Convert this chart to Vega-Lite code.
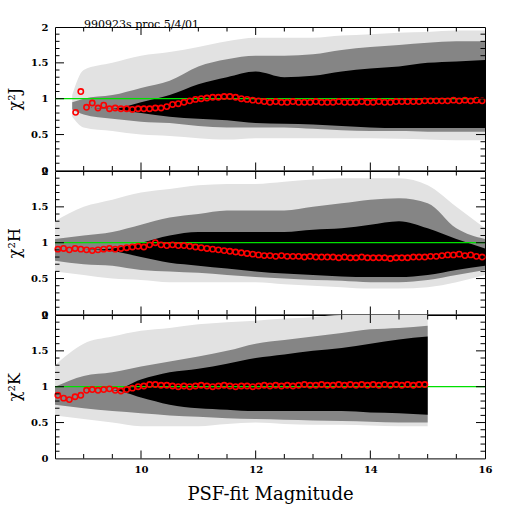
{
  "$schema": "https://vega.github.io/schema/vega-lite/v6.json",
  "background": "white",
  "padding": {"left": 6, "top": 18, "right": 26, "bottom": 10},
  "config": {
    "view": {"stroke": "black", "strokeWidth": 1},
    "font": "DejaVu Serif",
    "axis": {"domain": false, "grid": false, "ticks": false, "tickSize": 0, "labelColor": "black", "labelFont": "DejaVu Serif", "labelFontSize": 10, "labelFontWeight": "bold", "titleColor": "black", "titleFont": "DejaVu Serif", "titleFontWeight": "normal", "labelOverlap": false, "labelBound": false, "labelFlush": false}
  },
  "datasets": {
    "J_band": [
      {"mag": 8.8, "halo_lo": 0.75, "halo_hi": 1.05, "mid_lo": 0.85, "mid_hi": 0.95, "core_lo": 0.9, "core_hi": 0.9},
      {"mag": 9.0, "halo_lo": 0.6, "halo_hi": 1.4, "mid_lo": 0.78, "mid_hi": 1.0, "core_lo": 0.88, "core_hi": 0.88},
      {"mag": 9.5, "halo_lo": 0.55, "halo_hi": 1.5, "mid_lo": 0.72, "mid_hi": 1.05, "core_lo": 0.86, "core_hi": 0.86},
      {"mag": 10.0, "halo_lo": 0.5, "halo_hi": 1.6, "mid_lo": 0.68, "mid_hi": 1.15, "core_lo": 0.8, "core_hi": 0.95},
      {"mag": 10.5, "halo_lo": 0.48, "halo_hi": 1.65, "mid_lo": 0.66, "mid_hi": 1.25, "core_lo": 0.75, "core_hi": 1.05},
      {"mag": 11.0, "halo_lo": 0.45, "halo_hi": 1.72, "mid_lo": 0.62, "mid_hi": 1.45, "core_lo": 0.72, "core_hi": 1.2},
      {"mag": 11.5, "halo_lo": 0.43, "halo_hi": 1.8, "mid_lo": 0.6, "mid_hi": 1.55, "core_lo": 0.7, "core_hi": 1.3},
      {"mag": 12.0, "halo_lo": 0.45, "halo_hi": 1.85, "mid_lo": 0.6, "mid_hi": 1.6, "core_lo": 0.66, "core_hi": 1.38},
      {"mag": 12.5, "halo_lo": 0.45, "halo_hi": 1.85, "mid_lo": 0.6, "mid_hi": 1.6, "core_lo": 0.65, "core_hi": 1.3},
      {"mag": 13.0, "halo_lo": 0.45, "halo_hi": 1.85, "mid_lo": 0.58, "mid_hi": 1.62, "core_lo": 0.64, "core_hi": 1.32},
      {"mag": 13.5, "halo_lo": 0.45, "halo_hi": 1.88, "mid_lo": 0.56, "mid_hi": 1.68, "core_lo": 0.62, "core_hi": 1.38},
      {"mag": 14.0, "halo_lo": 0.45, "halo_hi": 1.9, "mid_lo": 0.55, "mid_hi": 1.72, "core_lo": 0.6, "core_hi": 1.42},
      {"mag": 14.5, "halo_lo": 0.44, "halo_hi": 1.92, "mid_lo": 0.55, "mid_hi": 1.75, "core_lo": 0.59, "core_hi": 1.45},
      {"mag": 15.0, "halo_lo": 0.43, "halo_hi": 1.93, "mid_lo": 0.54, "mid_hi": 1.78, "core_lo": 0.59, "core_hi": 1.5},
      {"mag": 15.5, "halo_lo": 0.42, "halo_hi": 1.95, "mid_lo": 0.54, "mid_hi": 1.8, "core_lo": 0.59, "core_hi": 1.52},
      {"mag": 16.0, "halo_lo": 0.42, "halo_hi": 1.95, "mid_lo": 0.54, "mid_hi": 1.8, "core_lo": 0.59, "core_hi": 1.54}
    ],
    "H_band": [
      {"mag": 8.5, "halo_lo": 0.6, "halo_hi": 1.3, "mid_lo": 0.75, "mid_hi": 1.05, "core_lo": 0.9, "core_hi": 0.9},
      {"mag": 9.0, "halo_lo": 0.55, "halo_hi": 1.5, "mid_lo": 0.7, "mid_hi": 1.1, "core_lo": 0.9, "core_hi": 0.9},
      {"mag": 9.5, "halo_lo": 0.5, "halo_hi": 1.6, "mid_lo": 0.68, "mid_hi": 1.15, "core_lo": 0.88, "core_hi": 0.92},
      {"mag": 10.0, "halo_lo": 0.48, "halo_hi": 1.7, "mid_lo": 0.62, "mid_hi": 1.25, "core_lo": 0.8, "core_hi": 1.0},
      {"mag": 10.5, "halo_lo": 0.45, "halo_hi": 1.75, "mid_lo": 0.6, "mid_hi": 1.35, "core_lo": 0.72, "core_hi": 1.1},
      {"mag": 11.0, "halo_lo": 0.45, "halo_hi": 1.8, "mid_lo": 0.58, "mid_hi": 1.4, "core_lo": 0.68, "core_hi": 1.15},
      {"mag": 11.5, "halo_lo": 0.45, "halo_hi": 1.82, "mid_lo": 0.55, "mid_hi": 1.45, "core_lo": 0.64, "core_hi": 1.15},
      {"mag": 12.0, "halo_lo": 0.45, "halo_hi": 1.82, "mid_lo": 0.52, "mid_hi": 1.45, "core_lo": 0.6, "core_hi": 1.15},
      {"mag": 12.5, "halo_lo": 0.42, "halo_hi": 1.85, "mid_lo": 0.5, "mid_hi": 1.45, "core_lo": 0.57, "core_hi": 1.15},
      {"mag": 13.0, "halo_lo": 0.4, "halo_hi": 1.88, "mid_lo": 0.48, "mid_hi": 1.5, "core_lo": 0.55, "core_hi": 1.18},
      {"mag": 13.5, "halo_lo": 0.38, "halo_hi": 1.9, "mid_lo": 0.47, "mid_hi": 1.55, "core_lo": 0.53, "core_hi": 1.2},
      {"mag": 14.0, "halo_lo": 0.36, "halo_hi": 1.9, "mid_lo": 0.45, "mid_hi": 1.6, "core_lo": 0.52, "core_hi": 1.25},
      {"mag": 14.5, "halo_lo": 0.36, "halo_hi": 1.9, "mid_lo": 0.45, "mid_hi": 1.62, "core_lo": 0.52, "core_hi": 1.3},
      {"mag": 15.0, "halo_lo": 0.38, "halo_hi": 1.8, "mid_lo": 0.48, "mid_hi": 1.55, "core_lo": 0.55, "core_hi": 1.2},
      {"mag": 15.5, "halo_lo": 0.45, "halo_hi": 1.5, "mid_lo": 0.55, "mid_hi": 1.2, "core_lo": 0.62, "core_hi": 1.05},
      {"mag": 16.0, "halo_lo": 0.55, "halo_hi": 1.2, "mid_lo": 0.62, "mid_hi": 1.05, "core_lo": 0.68, "core_hi": 0.92}
    ],
    "K_band": [
      {"mag": 8.5, "halo_lo": 0.6, "halo_hi": 1.3, "mid_lo": 0.75, "mid_hi": 1.0, "core_lo": 0.87, "core_hi": 0.87},
      {"mag": 9.0, "halo_lo": 0.55, "halo_hi": 1.6, "mid_lo": 0.7, "mid_hi": 1.15, "core_lo": 0.95, "core_hi": 0.95},
      {"mag": 9.5, "halo_lo": 0.5, "halo_hi": 1.7, "mid_lo": 0.66, "mid_hi": 1.2, "core_lo": 0.95, "core_hi": 0.95},
      {"mag": 10.0, "halo_lo": 0.45, "halo_hi": 1.78, "mid_lo": 0.63, "mid_hi": 1.28, "core_lo": 0.85, "core_hi": 1.1},
      {"mag": 10.5, "halo_lo": 0.45, "halo_hi": 1.82, "mid_lo": 0.6, "mid_hi": 1.35, "core_lo": 0.75, "core_hi": 1.2},
      {"mag": 11.0, "halo_lo": 0.45, "halo_hi": 1.87, "mid_lo": 0.58, "mid_hi": 1.42, "core_lo": 0.7, "core_hi": 1.25},
      {"mag": 11.5, "halo_lo": 0.48, "halo_hi": 1.9, "mid_lo": 0.56, "mid_hi": 1.5, "core_lo": 0.68, "core_hi": 1.32},
      {"mag": 12.0, "halo_lo": 0.5, "halo_hi": 1.92, "mid_lo": 0.55, "mid_hi": 1.6, "core_lo": 0.66, "core_hi": 1.4},
      {"mag": 12.5, "halo_lo": 0.48, "halo_hi": 1.95, "mid_lo": 0.54, "mid_hi": 1.65, "core_lo": 0.66, "core_hi": 1.45},
      {"mag": 13.0, "halo_lo": 0.47, "halo_hi": 1.97, "mid_lo": 0.53, "mid_hi": 1.7, "core_lo": 0.66, "core_hi": 1.5},
      {"mag": 13.5, "halo_lo": 0.47, "halo_hi": 2.0, "mid_lo": 0.52, "mid_hi": 1.75, "core_lo": 0.66, "core_hi": 1.54},
      {"mag": 14.0, "halo_lo": 0.46, "halo_hi": 2.0, "mid_lo": 0.51, "mid_hi": 1.8, "core_lo": 0.64, "core_hi": 1.6},
      {"mag": 14.5, "halo_lo": 0.45, "halo_hi": 2.0, "mid_lo": 0.5, "mid_hi": 1.82, "core_lo": 0.63, "core_hi": 1.66},
      {"mag": 15.0, "halo_lo": 0.45, "halo_hi": 2.0, "mid_lo": 0.5, "mid_hi": 1.85, "core_lo": 0.61, "core_hi": 1.7}
    ],
    "J_mean": [
      {"mag": 8.86, "chi2": 0.81}, {"mag": 8.95, "chi2": 1.10}, {"mag": 9.05, "chi2": 0.88}, {"mag": 9.15, "chi2": 0.94},
      {"mag": 9.25, "chi2": 0.87}, {"mag": 9.35, "chi2": 0.91}, {"mag": 9.45, "chi2": 0.86}, {"mag": 9.55, "chi2": 0.87},
      {"mag": 9.65, "chi2": 0.86}, {"mag": 9.75, "chi2": 0.86}, {"mag": 9.85, "chi2": 0.85}, {"mag": 9.95, "chi2": 0.86},
      {"mag": 10.05, "chi2": 0.86}, {"mag": 10.15, "chi2": 0.86}, {"mag": 10.25, "chi2": 0.87}, {"mag": 10.35, "chi2": 0.87},
      {"mag": 10.45, "chi2": 0.89}, {"mag": 10.55, "chi2": 0.92}, {"mag": 10.65, "chi2": 0.93}, {"mag": 10.75, "chi2": 0.95},
      {"mag": 10.85, "chi2": 0.97}, {"mag": 10.95, "chi2": 0.99}, {"mag": 11.05, "chi2": 1.00}, {"mag": 11.15, "chi2": 1.01},
      {"mag": 11.25, "chi2": 1.02}, {"mag": 11.35, "chi2": 1.02}, {"mag": 11.45, "chi2": 1.03}, {"mag": 11.55, "chi2": 1.03},
      {"mag": 11.65, "chi2": 1.02}, {"mag": 11.75, "chi2": 1.00}, {"mag": 11.85, "chi2": 0.99}, {"mag": 11.95, "chi2": 0.98},
      {"mag": 12.05, "chi2": 0.97}, {"mag": 12.15, "chi2": 0.96}, {"mag": 12.25, "chi2": 0.95}, {"mag": 12.35, "chi2": 0.96},
      {"mag": 12.45, "chi2": 0.95}, {"mag": 12.55, "chi2": 0.95}, {"mag": 12.65, "chi2": 0.96}, {"mag": 12.75, "chi2": 0.95},
      {"mag": 12.85, "chi2": 0.95}, {"mag": 12.95, "chi2": 0.95}, {"mag": 13.05, "chi2": 0.96}, {"mag": 13.15, "chi2": 0.95},
      {"mag": 13.25, "chi2": 0.95}, {"mag": 13.35, "chi2": 0.95}, {"mag": 13.45, "chi2": 0.96}, {"mag": 13.55, "chi2": 0.95},
      {"mag": 13.65, "chi2": 0.95}, {"mag": 13.75, "chi2": 0.95}, {"mag": 13.85, "chi2": 0.96}, {"mag": 13.95, "chi2": 0.95},
      {"mag": 14.05, "chi2": 0.95}, {"mag": 14.15, "chi2": 0.96}, {"mag": 14.25, "chi2": 0.95}, {"mag": 14.35, "chi2": 0.95},
      {"mag": 14.45, "chi2": 0.96}, {"mag": 14.55, "chi2": 0.96}, {"mag": 14.65, "chi2": 0.96}, {"mag": 14.75, "chi2": 0.96},
      {"mag": 14.85, "chi2": 0.96}, {"mag": 14.95, "chi2": 0.97}, {"mag": 15.05, "chi2": 0.97}, {"mag": 15.15, "chi2": 0.97},
      {"mag": 15.25, "chi2": 0.97}, {"mag": 15.35, "chi2": 0.97}, {"mag": 15.45, "chi2": 0.98}, {"mag": 15.55, "chi2": 0.97},
      {"mag": 15.65, "chi2": 0.98}, {"mag": 15.75, "chi2": 0.97}, {"mag": 15.85, "chi2": 0.98}, {"mag": 15.95, "chi2": 0.97}
    ],
    "H_mean": [
      {"mag": 8.55, "chi2": 0.91}, {"mag": 8.65, "chi2": 0.92}, {"mag": 8.75, "chi2": 0.90}, {"mag": 8.85, "chi2": 0.92},
      {"mag": 8.95, "chi2": 0.91}, {"mag": 9.05, "chi2": 0.90}, {"mag": 9.15, "chi2": 0.89}, {"mag": 9.25, "chi2": 0.90},
      {"mag": 9.35, "chi2": 0.91}, {"mag": 9.45, "chi2": 0.92}, {"mag": 9.55, "chi2": 0.91}, {"mag": 9.65, "chi2": 0.92},
      {"mag": 9.75, "chi2": 0.93}, {"mag": 9.85, "chi2": 0.94}, {"mag": 9.95, "chi2": 0.95}, {"mag": 10.05, "chi2": 0.94},
      {"mag": 10.15, "chi2": 0.97}, {"mag": 10.25, "chi2": 1.00}, {"mag": 10.35, "chi2": 0.97}, {"mag": 10.45, "chi2": 0.96},
      {"mag": 10.55, "chi2": 0.97}, {"mag": 10.65, "chi2": 0.96}, {"mag": 10.75, "chi2": 0.96}, {"mag": 10.85, "chi2": 0.95},
      {"mag": 10.95, "chi2": 0.94}, {"mag": 11.05, "chi2": 0.93}, {"mag": 11.15, "chi2": 0.92}, {"mag": 11.25, "chi2": 0.91},
      {"mag": 11.35, "chi2": 0.90}, {"mag": 11.45, "chi2": 0.89}, {"mag": 11.55, "chi2": 0.88}, {"mag": 11.65, "chi2": 0.87},
      {"mag": 11.75, "chi2": 0.86}, {"mag": 11.85, "chi2": 0.85}, {"mag": 11.95, "chi2": 0.84}, {"mag": 12.05, "chi2": 0.83},
      {"mag": 12.15, "chi2": 0.82}, {"mag": 12.25, "chi2": 0.82}, {"mag": 12.35, "chi2": 0.81}, {"mag": 12.45, "chi2": 0.82},
      {"mag": 12.55, "chi2": 0.81}, {"mag": 12.65, "chi2": 0.81}, {"mag": 12.75, "chi2": 0.81}, {"mag": 12.85, "chi2": 0.80},
      {"mag": 12.95, "chi2": 0.81}, {"mag": 13.05, "chi2": 0.80}, {"mag": 13.15, "chi2": 0.80}, {"mag": 13.25, "chi2": 0.80},
      {"mag": 13.35, "chi2": 0.80}, {"mag": 13.45, "chi2": 0.79}, {"mag": 13.55, "chi2": 0.80}, {"mag": 13.65, "chi2": 0.79},
      {"mag": 13.75, "chi2": 0.79}, {"mag": 13.85, "chi2": 0.80}, {"mag": 13.95, "chi2": 0.79}, {"mag": 14.05, "chi2": 0.79},
      {"mag": 14.15, "chi2": 0.79}, {"mag": 14.25, "chi2": 0.79}, {"mag": 14.35, "chi2": 0.78}, {"mag": 14.45, "chi2": 0.79},
      {"mag": 14.55, "chi2": 0.79}, {"mag": 14.65, "chi2": 0.79}, {"mag": 14.75, "chi2": 0.80}, {"mag": 14.85, "chi2": 0.80},
      {"mag": 14.95, "chi2": 0.80}, {"mag": 15.05, "chi2": 0.81}, {"mag": 15.15, "chi2": 0.81}, {"mag": 15.25, "chi2": 0.82},
      {"mag": 15.35, "chi2": 0.83}, {"mag": 15.45, "chi2": 0.83}, {"mag": 15.55, "chi2": 0.84}, {"mag": 15.65, "chi2": 0.82},
      {"mag": 15.75, "chi2": 0.83}, {"mag": 15.85, "chi2": 0.81}, {"mag": 15.95, "chi2": 0.80}
    ],
    "K_mean": [
      {"mag": 8.55, "chi2": 0.88}, {"mag": 8.65, "chi2": 0.84}, {"mag": 8.75, "chi2": 0.82}, {"mag": 8.85, "chi2": 0.86},
      {"mag": 8.95, "chi2": 0.88}, {"mag": 9.05, "chi2": 0.95}, {"mag": 9.15, "chi2": 0.96}, {"mag": 9.25, "chi2": 0.95},
      {"mag": 9.35, "chi2": 0.96}, {"mag": 9.45, "chi2": 0.97}, {"mag": 9.55, "chi2": 0.95}, {"mag": 9.65, "chi2": 0.94},
      {"mag": 9.75, "chi2": 0.96}, {"mag": 9.85, "chi2": 0.98}, {"mag": 9.95, "chi2": 1.00}, {"mag": 10.05, "chi2": 1.01},
      {"mag": 10.15, "chi2": 1.03}, {"mag": 10.25, "chi2": 1.03}, {"mag": 10.35, "chi2": 1.02}, {"mag": 10.45, "chi2": 1.02},
      {"mag": 10.55, "chi2": 1.01}, {"mag": 10.65, "chi2": 1.00}, {"mag": 10.75, "chi2": 1.01}, {"mag": 10.85, "chi2": 1.00},
      {"mag": 10.95, "chi2": 1.01}, {"mag": 11.05, "chi2": 1.02}, {"mag": 11.15, "chi2": 1.01}, {"mag": 11.25, "chi2": 1.00},
      {"mag": 11.35, "chi2": 1.01}, {"mag": 11.45, "chi2": 1.02}, {"mag": 11.55, "chi2": 1.01}, {"mag": 11.65, "chi2": 1.00},
      {"mag": 11.75, "chi2": 1.01}, {"mag": 11.85, "chi2": 1.01}, {"mag": 11.95, "chi2": 1.00}, {"mag": 12.05, "chi2": 1.01},
      {"mag": 12.15, "chi2": 1.02}, {"mag": 12.25, "chi2": 1.01}, {"mag": 12.35, "chi2": 1.02}, {"mag": 12.45, "chi2": 1.01},
      {"mag": 12.55, "chi2": 1.02}, {"mag": 12.65, "chi2": 1.01}, {"mag": 12.75, "chi2": 1.02}, {"mag": 12.85, "chi2": 1.03},
      {"mag": 12.95, "chi2": 1.02}, {"mag": 13.05, "chi2": 1.02}, {"mag": 13.15, "chi2": 1.03}, {"mag": 13.25, "chi2": 1.02},
      {"mag": 13.35, "chi2": 1.02}, {"mag": 13.45, "chi2": 1.03}, {"mag": 13.55, "chi2": 1.02}, {"mag": 13.65, "chi2": 1.03},
      {"mag": 13.75, "chi2": 1.02}, {"mag": 13.85, "chi2": 1.03}, {"mag": 13.95, "chi2": 1.02}, {"mag": 14.05, "chi2": 1.03},
      {"mag": 14.15, "chi2": 1.02}, {"mag": 14.25, "chi2": 1.03}, {"mag": 14.35, "chi2": 1.02}, {"mag": 14.45, "chi2": 1.03},
      {"mag": 14.55, "chi2": 1.02}, {"mag": 14.65, "chi2": 1.03}, {"mag": 14.75, "chi2": 1.02}, {"mag": 14.85, "chi2": 1.03},
      {"mag": 14.95, "chi2": 1.03}
    ],
    "unity": [{"chi2": 1}],
    "xt_major": [
      {"v": 10, "edge": 0}, {"v": 10, "edge": 2}, {"v": 12, "edge": 0}, {"v": 12, "edge": 2}, {"v": 14, "edge": 0}, {"v": 14, "edge": 2}
    ],
    "xt_minor": [
      {"v": 9, "edge": 0}, {"v": 9, "edge": 2}, {"v": 9.5, "edge": 0}, {"v": 9.5, "edge": 2},
      {"v": 10.5, "edge": 0}, {"v": 10.5, "edge": 2}, {"v": 11, "edge": 0}, {"v": 11, "edge": 2},
      {"v": 11.5, "edge": 0}, {"v": 11.5, "edge": 2}, {"v": 12.5, "edge": 0}, {"v": 12.5, "edge": 2},
      {"v": 13, "edge": 0}, {"v": 13, "edge": 2}, {"v": 13.5, "edge": 0}, {"v": 13.5, "edge": 2},
      {"v": 14.5, "edge": 0}, {"v": 14.5, "edge": 2}, {"v": 15, "edge": 0}, {"v": 15, "edge": 2},
      {"v": 15.5, "edge": 0}, {"v": 15.5, "edge": 2}
    ],
    "yt_major": [
      {"v": 0.5, "edge": 8.5}, {"v": 0.5, "edge": 16}, {"v": 1, "edge": 8.5}, {"v": 1, "edge": 16}, {"v": 1.5, "edge": 8.5}, {"v": 1.5, "edge": 16}
    ],
    "yt_minor": [
      {"v": 0.1, "edge": 8.5}, {"v": 0.1, "edge": 16}, {"v": 0.2, "edge": 8.5}, {"v": 0.2, "edge": 16},
      {"v": 0.3, "edge": 8.5}, {"v": 0.3, "edge": 16}, {"v": 0.4, "edge": 8.5}, {"v": 0.4, "edge": 16},
      {"v": 0.6, "edge": 8.5}, {"v": 0.6, "edge": 16}, {"v": 0.7, "edge": 8.5}, {"v": 0.7, "edge": 16},
      {"v": 0.8, "edge": 8.5}, {"v": 0.8, "edge": 16}, {"v": 0.9, "edge": 8.5}, {"v": 0.9, "edge": 16},
      {"v": 1.1, "edge": 8.5}, {"v": 1.1, "edge": 16}, {"v": 1.2, "edge": 8.5}, {"v": 1.2, "edge": 16},
      {"v": 1.3, "edge": 8.5}, {"v": 1.3, "edge": 16}, {"v": 1.4, "edge": 8.5}, {"v": 1.4, "edge": 16},
      {"v": 1.6, "edge": 8.5}, {"v": 1.6, "edge": 16}, {"v": 1.7, "edge": 8.5}, {"v": 1.7, "edge": 16},
      {"v": 1.8, "edge": 8.5}, {"v": 1.8, "edge": 16}, {"v": 1.9, "edge": 8.5}, {"v": 1.9, "edge": 16}
    ]
  },
  "bounds": "flush",
  "spacing": 0,
  "vconcat": [
    {
      "width": 430, "height": 143.4,
      "title": {"text": "990923s proc 5/4/01", "anchor": "start", "frame": "group", "dx": 29, "offset": -8, "fontSize": 11, "font": "DejaVu Serif", "fontWeight": "normal", "color": "black"},
      "layer": [
        {"data": {"name": "J_band"}, "mark": {"type": "area", "color": "#e2e2e2", "interpolate": "monotone"},
         "encoding": {
           "x": {"field": "mag", "type": "quantitative", "scale": {"domain": [8.5, 16], "nice": false}, "axis": null},
           "y": {"field": "halo_lo", "type": "quantitative", "scale": {"domain": [0, 2], "nice": false}, "axis": {"orient": "left", "values": [0, 0.5, 1, 1.5, 2], "format": "~g", "labelPadding": 7, "title": "χ²J", "titleFontSize": 16, "titlePadding": 8}},
           "y2": {"field": "halo_hi"}}},
        {"data": {"name": "J_band"}, "mark": {"type": "area", "color": "#858585", "interpolate": "monotone"},
         "encoding": {"x": {"field": "mag", "type": "quantitative", "axis": null}, "y": {"field": "mid_lo", "type": "quantitative", "axis": null}, "y2": {"field": "mid_hi"}}},
        {"data": {"name": "J_band"}, "mark": {"type": "area", "color": "black", "interpolate": "monotone"},
         "encoding": {"x": {"field": "mag", "type": "quantitative", "axis": null}, "y": {"field": "core_lo", "type": "quantitative", "axis": null}, "y2": {"field": "core_hi"}}},
        {"data": {"name": "unity"}, "mark": {"type": "rule", "color": "#00e000", "strokeWidth": 1.2},
         "encoding": {"y": {"field": "chi2", "type": "quantitative", "axis": null}}},
        {"data": {"name": "J_mean"}, "mark": {"type": "point", "shape": "circle", "filled": false, "color": "red", "size": 28, "strokeWidth": 1.6, "opacity": 1},
         "encoding": {"x": {"field": "mag", "type": "quantitative", "axis": null}, "y": {"field": "chi2", "type": "quantitative", "axis": null}}},
        {"data": {"name": "xt_major"}, "mark": {"type": "tick", "orient": "vertical", "size": 8, "thickness": 1, "color": "black", "opacity": 1, "yOffset": {"expr": "datum.edge == 0 ? -4 : 4"}},
         "encoding": {"x": {"field": "v", "type": "quantitative", "axis": null}, "y": {"field": "edge", "type": "quantitative", "axis": null}}},
        {"data": {"name": "xt_minor"}, "mark": {"type": "tick", "orient": "vertical", "size": 4.5, "thickness": 1, "color": "black", "opacity": 1, "yOffset": {"expr": "datum.edge == 0 ? -2.25 : 2.25"}},
         "encoding": {"x": {"field": "v", "type": "quantitative", "axis": null}, "y": {"field": "edge", "type": "quantitative", "axis": null}}},
        {"data": {"name": "yt_major"}, "mark": {"type": "tick", "orient": "horizontal", "size": 9, "thickness": 1, "color": "black", "opacity": 1, "xOffset": {"expr": "datum.edge == 8.5 ? 4.5 : -4.5"}},
         "encoding": {"x": {"field": "edge", "type": "quantitative", "axis": null}, "y": {"field": "v", "type": "quantitative", "axis": null}}},
        {"data": {"name": "yt_minor"}, "mark": {"type": "tick", "orient": "horizontal", "size": 4.5, "thickness": 1, "color": "black", "opacity": 1, "xOffset": {"expr": "datum.edge == 8.5 ? 2.25 : -2.25"}},
         "encoding": {"x": {"field": "edge", "type": "quantitative", "axis": null}, "y": {"field": "v", "type": "quantitative", "axis": null}}}
      ],
      "resolve": {"axis": {"x": "independent", "y": "independent"}}
    },
    {
      "width": 430, "height": 143.4,
      "layer": [
        {"data": {"name": "H_band"}, "mark": {"type": "area", "color": "#e2e2e2", "interpolate": "monotone"},
         "encoding": {
           "x": {"field": "mag", "type": "quantitative", "scale": {"domain": [8.5, 16], "nice": false}, "axis": null},
           "y": {"field": "halo_lo", "type": "quantitative", "scale": {"domain": [0, 2], "nice": false}, "axis": {"orient": "left", "values": [0, 0.5, 1, 1.5, 2], "format": "~g", "labelPadding": 7, "title": "χ²H", "titleFontSize": 16, "titlePadding": 8}},
           "y2": {"field": "halo_hi"}}},
        {"data": {"name": "H_band"}, "mark": {"type": "area", "color": "#858585", "interpolate": "monotone"},
         "encoding": {"x": {"field": "mag", "type": "quantitative", "axis": null}, "y": {"field": "mid_lo", "type": "quantitative", "axis": null}, "y2": {"field": "mid_hi"}}},
        {"data": {"name": "H_band"}, "mark": {"type": "area", "color": "black", "interpolate": "monotone"},
         "encoding": {"x": {"field": "mag", "type": "quantitative", "axis": null}, "y": {"field": "core_lo", "type": "quantitative", "axis": null}, "y2": {"field": "core_hi"}}},
        {"data": {"name": "unity"}, "mark": {"type": "rule", "color": "#00e000", "strokeWidth": 1.2},
         "encoding": {"y": {"field": "chi2", "type": "quantitative", "axis": null}}},
        {"data": {"name": "H_mean"}, "mark": {"type": "point", "shape": "circle", "filled": false, "color": "red", "size": 28, "strokeWidth": 1.6, "opacity": 1},
         "encoding": {"x": {"field": "mag", "type": "quantitative", "axis": null}, "y": {"field": "chi2", "type": "quantitative", "axis": null}}},
        {"data": {"name": "xt_major"}, "mark": {"type": "tick", "orient": "vertical", "size": 8, "thickness": 1, "color": "black", "opacity": 1, "yOffset": {"expr": "datum.edge == 0 ? -4 : 4"}},
         "encoding": {"x": {"field": "v", "type": "quantitative", "axis": null}, "y": {"field": "edge", "type": "quantitative", "axis": null}}},
        {"data": {"name": "xt_minor"}, "mark": {"type": "tick", "orient": "vertical", "size": 4.5, "thickness": 1, "color": "black", "opacity": 1, "yOffset": {"expr": "datum.edge == 0 ? -2.25 : 2.25"}},
         "encoding": {"x": {"field": "v", "type": "quantitative", "axis": null}, "y": {"field": "edge", "type": "quantitative", "axis": null}}},
        {"data": {"name": "yt_major"}, "mark": {"type": "tick", "orient": "horizontal", "size": 9, "thickness": 1, "color": "black", "opacity": 1, "xOffset": {"expr": "datum.edge == 8.5 ? 4.5 : -4.5"}},
         "encoding": {"x": {"field": "edge", "type": "quantitative", "axis": null}, "y": {"field": "v", "type": "quantitative", "axis": null}}},
        {"data": {"name": "yt_minor"}, "mark": {"type": "tick", "orient": "horizontal", "size": 4.5, "thickness": 1, "color": "black", "opacity": 1, "xOffset": {"expr": "datum.edge == 8.5 ? 2.25 : -2.25"}},
         "encoding": {"x": {"field": "edge", "type": "quantitative", "axis": null}, "y": {"field": "v", "type": "quantitative", "axis": null}}}
      ],
      "resolve": {"axis": {"x": "independent", "y": "independent"}}
    },
    {
      "width": 430, "height": 143.4,
      "layer": [
        {"data": {"name": "K_band"}, "mark": {"type": "area", "color": "#e2e2e2", "interpolate": "monotone"},
         "encoding": {
           "x": {"field": "mag", "type": "quantitative", "scale": {"domain": [8.5, 16], "nice": false}, "axis": {"orient": "bottom", "values": [10, 12, 14, 16], "labelPadding": 6, "labelFontSize": 10, "title": "PSF-fit Magnitude", "titleFontSize": 18, "titlePadding": 11}},
           "y": {"field": "halo_lo", "type": "quantitative", "scale": {"domain": [0, 2], "nice": false}, "axis": {"orient": "left", "values": [0, 0.5, 1, 1.5, 2], "format": "~g", "labelPadding": 7, "title": "χ²K", "titleFontSize": 16, "titlePadding": 8}},
           "y2": {"field": "halo_hi"}}},
        {"data": {"name": "K_band"}, "mark": {"type": "area", "color": "#858585", "interpolate": "monotone"},
         "encoding": {"x": {"field": "mag", "type": "quantitative", "axis": null}, "y": {"field": "mid_lo", "type": "quantitative", "axis": null}, "y2": {"field": "mid_hi"}}},
        {"data": {"name": "K_band"}, "mark": {"type": "area", "color": "black", "interpolate": "monotone"},
         "encoding": {"x": {"field": "mag", "type": "quantitative", "axis": null}, "y": {"field": "core_lo", "type": "quantitative", "axis": null}, "y2": {"field": "core_hi"}}},
        {"data": {"name": "unity"}, "mark": {"type": "rule", "color": "#00e000", "strokeWidth": 1.2},
         "encoding": {"y": {"field": "chi2", "type": "quantitative", "axis": null}}},
        {"data": {"name": "K_mean"}, "mark": {"type": "point", "shape": "circle", "filled": false, "color": "red", "size": 28, "strokeWidth": 1.6, "opacity": 1},
         "encoding": {"x": {"field": "mag", "type": "quantitative", "axis": null}, "y": {"field": "chi2", "type": "quantitative", "axis": null}}},
        {"data": {"name": "xt_major"}, "mark": {"type": "tick", "orient": "vertical", "size": 8, "thickness": 1, "color": "black", "opacity": 1, "yOffset": {"expr": "datum.edge == 0 ? -4 : 4"}},
         "encoding": {"x": {"field": "v", "type": "quantitative", "axis": null}, "y": {"field": "edge", "type": "quantitative", "axis": null}}},
        {"data": {"name": "xt_minor"}, "mark": {"type": "tick", "orient": "vertical", "size": 4.5, "thickness": 1, "color": "black", "opacity": 1, "yOffset": {"expr": "datum.edge == 0 ? -2.25 : 2.25"}},
         "encoding": {"x": {"field": "v", "type": "quantitative", "axis": null}, "y": {"field": "edge", "type": "quantitative", "axis": null}}},
        {"data": {"name": "yt_major"}, "mark": {"type": "tick", "orient": "horizontal", "size": 9, "thickness": 1, "color": "black", "opacity": 1, "xOffset": {"expr": "datum.edge == 8.5 ? 4.5 : -4.5"}},
         "encoding": {"x": {"field": "edge", "type": "quantitative", "axis": null}, "y": {"field": "v", "type": "quantitative", "axis": null}}},
        {"data": {"name": "yt_minor"}, "mark": {"type": "tick", "orient": "horizontal", "size": 4.5, "thickness": 1, "color": "black", "opacity": 1, "xOffset": {"expr": "datum.edge == 8.5 ? 2.25 : -2.25"}},
         "encoding": {"x": {"field": "edge", "type": "quantitative", "axis": null}, "y": {"field": "v", "type": "quantitative", "axis": null}}}
      ],
      "resolve": {"axis": {"x": "independent", "y": "independent"}}
    }
  ]
}
